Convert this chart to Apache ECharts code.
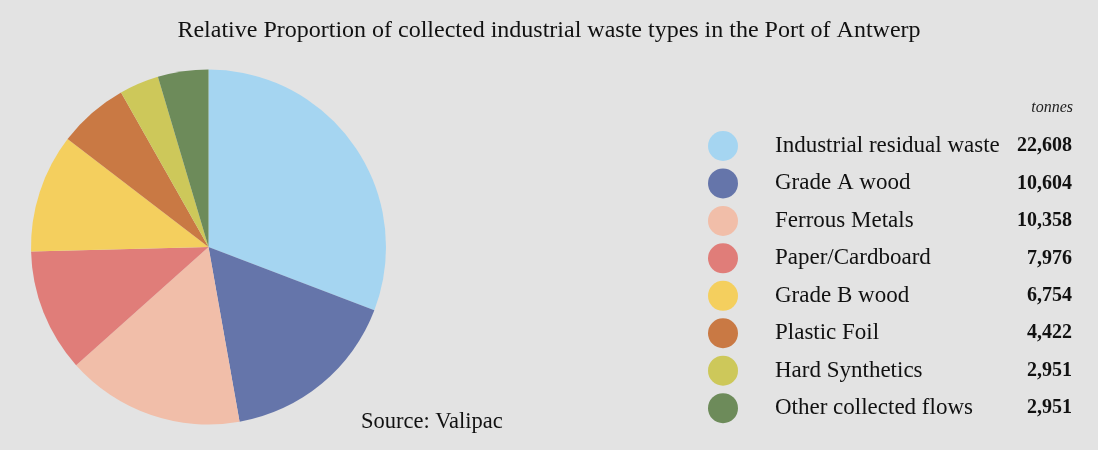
<!DOCTYPE html>
<html>
<head>
<meta charset="utf-8">
<script src="https://cdn.jsdelivr.net/npm/echarts@6/dist/echarts.min.js"></script>
<style>
  html, body { margin: 0; padding: 0; background: #e3e3e3; }
  #chart { width: 1098px; height: 450px; }
</style>
</head>
<body>
<div id="chart"></div>
<script>
// Data
var categories = ['Industrial residual waste', 'Grade A wood', 'Ferrous Metals', 'Paper/Cardboard',
                  'Grade B wood', 'Plastic Foil', 'Hard Synthetics', 'Other collected flows'];
// tonnes as printed in the legend
var tonnes = [22608, 10604, 10358, 7976, 6754, 4422, 2951, 2951];
// pie shares (%) as drawn in the reference pie
var pieShares = [30.8, 16.4, 16.2, 11.2, 10.8, 6.4, 3.6, 4.6];
var colors = ['#a5d5f1', '#6575aa', '#f1bea9', '#e07d79', '#f4cf5e', '#c97944', '#cdc85a', '#6d8b5a'];

var FONT = '"Liberation Serif", "DejaVu Serif", serif';

function fmt(v) { return v.toLocaleString('en-US'); }

var chart = echarts.init(document.getElementById('chart'), null, { renderer: 'canvas' });
var option = {
  backgroundColor: '#e3e3e3',
  color: colors,
  animation: false,
  title: {
    text: 'Relative Proportion of collected industrial waste types in the Port of Antwerp',
    left: 'center',
    top: 14,
    textStyle: { fontFamily: FONT, fontSize: 24, fontWeight: 'normal', color: '#111' }
  },
  legend: {
    orient: 'vertical',
    left: 703,
    top: 126,
    itemWidth: 30,
    itemHeight: 30,
    itemGap: 7.45,
    icon: 'circle',
    selectedMode: false,
    data: categories,
    formatter: function (name) {
      var i = categories.indexOf(name);
      return '{n|' + name + '}{v|' + fmt(tonnes[i]) + '}';
    },
    textStyle: {
      fontFamily: FONT,
      color: '#111',
      padding: [0, 0, 0, 32],
      rich: {
        n: { fontFamily: FONT, fontSize: 23, color: '#111', width: 220 },
        v: { fontFamily: FONT, fontSize: 20, fontWeight: 'bold', color: '#111', width: 77, align: 'right' }
      }
    }
  },
  graphic: [
    {
      type: 'text',
      right: 25,
      top: 100,
      style: { text: 'tonnes', font: 'italic 16px ' + FONT, fill: '#222', textAlign: 'right' }
    },
    {
      type: 'text',
      left: 361,
      top: 411,
      style: { text: 'Source: Valipac', font: '22.5px ' + FONT, fill: '#111' }
    }
  ],
  series: [{
    type: 'pie',
    center: [208.5, 247],
    radius: 177.5,
    startAngle: 90,
    clockwise: true,
    label: { show: false },
    labelLine: { show: false },
    emphasis: { disabled: true },
    itemStyle: { borderWidth: 0 },
    data: categories.map(function (c, i) { return { name: c, value: pieShares[i] }; })
  }]
};
chart.setOption(option);
</script>
</body>
</html>
